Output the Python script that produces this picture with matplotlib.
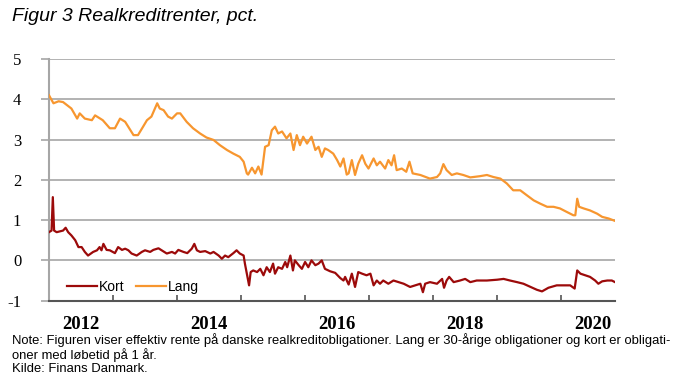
#!/usr/bin/env python3
"""Figur 3: Realkreditrenter, pct. (kort og lang rente)."""

import matplotlib
matplotlib.use("Agg")
import matplotlib.pyplot as plt
from matplotlib.ticker import FixedLocator, NullFormatter, FixedFormatter

OUTPUT_PATH = "out.png"

# time as decimal years, values in pct.
lang_t = [
    2012.00, 2012.07, 2012.15, 2012.22, 2012.35, 2012.44, 2012.48, 2012.56,
    2012.67, 2012.72, 2012.80, 2012.84, 2012.95, 2013.03, 2013.11, 2013.19,
    2013.32, 2013.39, 2013.47, 2013.53, 2013.60, 2013.69, 2013.73, 2013.79,
    2013.86, 2013.92, 2014.00, 2014.05, 2014.15, 2014.25, 2014.36, 2014.46,
    2014.57, 2014.67, 2014.78, 2014.88, 2014.98, 2015.04, 2015.09, 2015.11,
    2015.17, 2015.22, 2015.27, 2015.32, 2015.375, 2015.43, 2015.48, 2015.53,
    2015.58, 2015.64, 2015.71, 2015.77, 2015.82, 2015.87, 2015.92, 2015.97,
    2016.03, 2016.10, 2016.16, 2016.21, 2016.26, 2016.31, 2016.36, 2016.44,
    2016.50, 2016.55, 2016.60, 2016.65, 2016.68, 2016.73, 2016.78, 2016.83,
    2016.89, 2016.94, 2016.99, 2017.07, 2017.12, 2017.17, 2017.25, 2017.30,
    2017.35, 2017.39, 2017.43, 2017.51, 2017.58, 2017.63, 2017.68, 2017.80,
    2017.95, 2018.06, 2018.11, 2018.16, 2018.21, 2018.29, 2018.37, 2018.47,
    2018.58, 2018.73, 2018.84, 2018.94, 2019.05, 2019.15, 2019.25, 2019.36,
    2019.46, 2019.57, 2019.67, 2019.78, 2019.88, 2019.98, 2020.09, 2020.19,
    2020.22, 2020.25, 2020.28, 2020.35, 2020.45, 2020.56, 2020.64, 2020.74,
    2020.84,
]
lang = [
    4.10, 3.90, 3.95, 3.93, 3.77, 3.52, 3.65, 3.52,
    3.48, 3.60, 3.52, 3.48, 3.28, 3.28, 3.52, 3.44,
    3.11, 3.11, 3.32, 3.48, 3.57, 3.90, 3.77, 3.73,
    3.57, 3.52, 3.65, 3.65, 3.44, 3.28, 3.15, 3.05,
    2.99, 2.86, 2.74, 2.65, 2.57, 2.45, 2.16, 2.13,
    2.30, 2.16, 2.33, 2.13, 2.82, 2.86, 3.23, 3.32,
    3.15, 3.20, 3.03, 3.15, 2.74, 3.11, 2.86, 3.07,
    2.90, 3.07, 2.74, 2.82, 2.57, 2.78, 2.74, 2.65,
    2.49, 2.33, 2.53, 2.13, 2.16, 2.49, 2.12, 2.40,
    2.61, 2.40, 2.28, 2.53, 2.36, 2.45, 2.28, 2.49,
    2.36, 2.61, 2.24, 2.28, 2.20, 2.45, 2.16, 2.12,
    2.03, 2.07, 2.16, 2.39, 2.24, 2.12, 2.16, 2.12,
    2.06, 2.09, 2.12, 2.07, 2.03, 1.91, 1.74, 1.74,
    1.62, 1.49, 1.41, 1.33, 1.33, 1.29, 1.20, 1.12,
    1.12, 1.53, 1.33, 1.29, 1.24, 1.16, 1.08, 1.04,
    0.98,
]

kort_t = [
    2012.00, 2012.04, 2012.06, 2012.08, 2012.12, 2012.22, 2012.26, 2012.30,
    2012.35, 2012.41, 2012.46, 2012.51, 2012.56, 2012.61, 2012.69, 2012.75,
    2012.79, 2012.82, 2012.85, 2012.90, 2012.95, 2013.03, 2013.08, 2013.14,
    2013.19, 2013.24, 2013.29, 2013.37, 2013.45, 2013.50, 2013.58, 2013.63,
    2013.71, 2013.76, 2013.84, 2013.92, 2013.97, 2014.02, 2014.10, 2014.16,
    2014.23, 2014.27, 2014.31, 2014.36, 2014.44, 2014.52, 2014.57, 2014.65,
    2014.70, 2014.75, 2014.80, 2014.88, 2014.93, 2014.98, 2015.04, 2015.06,
    2015.10, 2015.125, 2015.15, 2015.19, 2015.25, 2015.30, 2015.35, 2015.40,
    2015.45, 2015.50, 2015.53, 2015.58, 2015.64, 2015.69, 2015.72, 2015.77,
    2015.81, 2015.84, 2015.90, 2015.95, 2016.00, 2016.05, 2016.10, 2016.16,
    2016.21, 2016.26, 2016.31, 2016.39, 2016.47, 2016.55, 2016.60, 2016.625,
    2016.68, 2016.73, 2016.78, 2016.83, 2016.89, 2016.96, 2017.02, 2017.07,
    2017.12, 2017.17, 2017.22, 2017.30, 2017.38, 2017.46, 2017.54, 2017.64,
    2017.72, 2017.80, 2017.84, 2017.875, 2017.95, 2018.06, 2018.14, 2018.17,
    2018.21, 2018.25, 2018.32, 2018.42, 2018.50, 2018.58, 2018.68, 2018.84,
    2019.00, 2019.10, 2019.20, 2019.31, 2019.41, 2019.52, 2019.62, 2019.70,
    2019.80, 2019.93, 2020.04, 2020.14, 2020.21, 2020.25, 2020.30, 2020.375,
    2020.45, 2020.53, 2020.58, 2020.64, 2020.72, 2020.79, 2020.84,
]
kort = [
    0.70, 0.74, 1.57, 0.74, 0.70, 0.74, 0.81, 0.70,
    0.62, 0.50, 0.33, 0.33, 0.21, 0.12, 0.21, 0.25,
    0.33, 0.25, 0.41, 0.26, 0.25, 0.18, 0.33, 0.26,
    0.29, 0.25, 0.17, 0.12, 0.21, 0.25, 0.21, 0.26,
    0.30, 0.25, 0.17, 0.21, 0.17, 0.26, 0.21, 0.18,
    0.29, 0.41, 0.25, 0.21, 0.23, 0.17, 0.21, 0.12,
    0.04, 0.12, 0.08, 0.18, 0.25, 0.17, 0.12, -0.08,
    -0.41, -0.62, -0.29, -0.25, -0.29, -0.21, -0.37, -0.17,
    -0.29, -0.08, -0.33, -0.17, -0.21, -0.04, -0.17, 0.12,
    -0.25, 0.00, -0.12, -0.21, -0.04, -0.17, 0.00, -0.12,
    -0.08, 0.00, -0.21, -0.27, -0.31, -0.44, -0.50, -0.41,
    -0.60, -0.33, -0.66, -0.29, -0.33, -0.37, -0.33, -0.62,
    -0.50, -0.58, -0.50, -0.58, -0.50, -0.54, -0.58, -0.66,
    -0.62, -0.58, -0.79, -0.58, -0.54, -0.58, -0.46, -0.68,
    -0.50, -0.41, -0.54, -0.50, -0.46, -0.54, -0.50, -0.50,
    -0.48, -0.46, -0.50, -0.54, -0.58, -0.66, -0.73, -0.77,
    -0.68, -0.62, -0.62, -0.62, -0.70, -0.25, -0.33, -0.37,
    -0.41, -0.50, -0.58, -0.52, -0.50, -0.50, -0.54,
]

years = list(range(2012, 2021))
label_years = [2012, 2014, 2016, 2018, 2020]
y_ticks = [-1, 0, 1, 2, 3, 4, 5]

TITLE = "Figur 3 Realkreditrenter, pct."
NOTE = ("Note: Figuren viser effektiv rente på danske realkreditobligationer. "
        "Lang er 30-årige obligationer og kort er obligati-\n"
        "oner med løbetid på 1 år.\n"
        "Kilde: Finans Danmark.")

KORT_COLOR = "#9c0a0a"
LANG_COLOR = "#f7962f"
GRID_COLOR = "#a6a6a6"


def main():
    fig = plt.figure(figsize=(6.86, 3.83), dpi=100)
    ax = fig.add_axes([0.0714, 0.215, 0.8251, 0.631])

    ax.plot(kort_t, kort, color=KORT_COLOR, lw=1.6, label="Kort", zorder=3)
    ax.plot(lang_t, lang, color=LANG_COLOR, lw=1.6, label="Lang", zorder=3)

    ax.set_xlim(2012.0, 2020.84)
    ax.set_ylim(-1, 5)

    # y axis: gridlines at every integer
    ax.set_yticks(y_ticks)
    ax.set_yticklabels([str(v) for v in y_ticks], family="Liberation Serif", fontsize=12)
    ax.yaxis.grid(True, color=GRID_COLOR, lw=1.2)
    ax.tick_params(axis="y", length=6, color=GRID_COLOR, width=1.2, pad=14)

    # x axis: tick at each new year, labels centred in every other year
    ax.xaxis.set_major_locator(FixedLocator(years))
    ax.xaxis.set_major_formatter(NullFormatter())
    ax.xaxis.set_minor_locator(FixedLocator([y + 0.5 for y in label_years]))
    ax.xaxis.set_minor_formatter(FixedFormatter([str(y) for y in label_years]))
    ax.tick_params(axis="x", which="major", direction="in", length=4, color="#555555", width=1.2)
    ax.tick_params(axis="x", which="minor", length=0, pad=11)
    for lbl in ax.xaxis.get_minorticklabels():
        lbl.set_family("Liberation Serif")
        lbl.set_fontweight("bold")
        lbl.set_fontsize(13.5)

    ax.set_axisbelow(True)
    for side in ("top", "right"):
        ax.spines[side].set_visible(False)
    ax.spines["left"].set_color(GRID_COLOR)
    ax.spines["left"].set_linewidth(1.5)
    ax.spines["bottom"].set_color("#555555")
    ax.spines["bottom"].set_linewidth(1.5)

    ax.legend(loc="lower left", bbox_to_anchor=(0.017, -0.005), ncol=2, frameon=False,
              prop={"family": "Liberation Sans", "size": 10}, handlelength=2.15,
              handletextpad=0.15, columnspacing=0.85, borderaxespad=0.2)

    fig.text(0.0175, 1 - 8 / 383, TITLE, family="Liberation Sans", style="italic",
             fontsize=14, va="top", ha="left")
    fig.text(0.0175, 1 - 333 / 383, NOTE, family="Liberation Sans", fontsize=9.4,
             va="top", ha="left", linespacing=1.1)

    fig.savefig(OUTPUT_PATH, dpi=100)
    print(f"Saved to {OUTPUT_PATH}")


if __name__ == "__main__":
    main()
